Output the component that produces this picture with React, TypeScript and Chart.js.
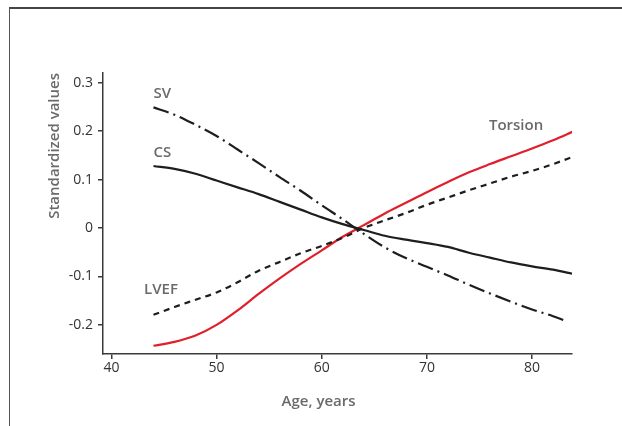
import React, { useEffect, useRef } from "react";
import { Chart, registerables } from "chart.js";

Chart.register(...registerables);

const ages = [44, 46, 48, 50, 52, 54, 56, 58, 60, 62, 64, 66, 68, 70, 72, 74, 76, 78, 80, 82, 84];
const svAges = [44, 46, 48, 50, 52, 54, 56, 58, 60, 62, 64, 66, 68, 70, 72, 74, 76, 78, 80, 82, 83];
const svValues = [0.249, 0.234, 0.213, 0.19, 0.162, 0.134, 0.105, 0.077, 0.047, 0.018, -0.012, -0.04, -0.062, -0.08, -0.098, -0.117, -0.135, -0.152, -0.168, -0.182, -0.19];
const csValues = [0.128, 0.122, 0.112, 0.098, 0.084, 0.07, 0.054, 0.038, 0.022, 0.008, -0.004, -0.016, -0.024, -0.031, -0.039, -0.051, -0.061, -0.071, -0.079, -0.086, -0.095];
const lvefValues = [-0.179, -0.163, -0.148, -0.133, -0.112, -0.088, -0.07, -0.052, -0.037, -0.02, 0.0, 0.016, 0.031, 0.048, 0.063, 0.078, 0.092, 0.106, 0.118, 0.132, 0.148];
const torsionValues = [-0.243, -0.235, -0.222, -0.2, -0.17, -0.136, -0.104, -0.074, -0.046, -0.018, 0.006, 0.03, 0.052, 0.074, 0.095, 0.115, 0.132, 0.148, 0.164, 0.181, 0.2];

const xTicks = [40, 50, 60, 70, 80];
const yTicks = [-0.2, -0.1, 0, 0.1, 0.2, 0.3];

const seriesLabels = [
  { text: "SV", x: 44, y: 0.278 },
  { text: "CS", x: 44, y: 0.156 },
  { text: "LVEF", x: 43.1, y: -0.128 },
  { text: "Torsion", x: 75.9, y: 0.212 },
];

const xTitle = "Age, years";
const yTitle = "Standardized values";

const FONT = "'Open Sans', 'Noto Sans', sans-serif";
const LABEL_COLOR = "#6a6a6a";

const textPlugin = {
  id: "customText",
  afterDraw(chart: any) {
    const ctx = chart.ctx;
    const xs = chart.scales.x;
    const ys = chart.scales.y;
    ctx.save();
    ctx.fillStyle = LABEL_COLOR;
    ctx.font = `600 15px ${FONT}`;
    ctx.textBaseline = "middle";
    ctx.textAlign = "left";
    for (const l of seriesLabels) {
      ctx.fillText(l.text, xs.getPixelForValue(l.x), ys.getPixelForValue(l.y));
    }
    ctx.textAlign = "center";
    ctx.fillText(xTitle, xs.getPixelForValue(59.7), chart.chartArea.bottom + 48);
    ctx.translate(55, chart.chartArea.top);
    ctx.rotate(-Math.PI / 2);
    ctx.textAlign = "right";
    ctx.fillText(yTitle, 0, 0);
    ctx.restore();
  },
};

export default function App() {
  const ref = useRef<HTMLCanvasElement>(null);
  useEffect(() => {
    const canvas = ref.current!;
    const chart = new Chart(canvas, {
      type: "line",
      data: {
        datasets: [
          {
            label: "SV",
            data: svAges.map((a, i) => ({ x: a, y: svValues[i] })),
            borderColor: "#1e1e1e",
            borderWidth: 2.2,
            borderDash: [16, 5, 2, 5],
          },
          {
            label: "CS",
            data: ages.map((a, i) => ({ x: a, y: csValues[i] })),
            borderColor: "#1e1e1e",
            borderWidth: 2.2,
          },
          {
            label: "LVEF",
            data: ages.map((a, i) => ({ x: a, y: lvefValues[i] })),
            borderColor: "#1e1e1e",
            borderWidth: 2.2,
            borderDash: [6, 5],
          },
          {
            label: "Torsion",
            data: ages.map((a, i) => ({ x: a, y: torsionValues[i] })),
            borderColor: "#e01f2b",
            borderWidth: 2.2,
          },
        ],
      },
      options: {
        animation: false,
        responsive: false,
        maintainAspectRatio: false,
        events: [],
        elements: {
          point: { radius: 0 },
          line: { cubicInterpolationMode: "monotone", fill: false },
        },
        layout: { padding: { top: 73, right: 50, left: 0, bottom: 0 } },
        plugins: { legend: { display: false }, tooltip: { enabled: false }, title: { display: false } },
        scales: {
          x: {
            type: "linear",
            min: 39.2,
            max: 83.8,
            afterFit(scale: any) {
              scale.height = 72;
            },
            afterBuildTicks(scale: any) {
              scale.ticks = xTicks.map((v) => ({ value: v }));
            },
            border: { display: true, color: "#3a3a3a", width: 1.5 },
            grid: { display: true, drawOnChartArea: false, drawTicks: true, tickLength: 5, color: "#3a3a3a", lineWidth: 1.5 },
            ticks: {
              color: "#333",
              font: { family: FONT, size: 14 },
              padding: 1,
              maxRotation: 0,
              callback: (v: any) => String(v),
            },
          },
          y: {
            type: "linear",
            min: -0.26,
            max: 0.32,
            afterFit(scale: any) {
              scale.width = 103;
            },
            afterBuildTicks(scale: any) {
              scale.ticks = yTicks.map((v) => ({ value: v }));
            },
            border: { display: true, color: "#3a3a3a", width: 1.5 },
            grid: { display: true, drawOnChartArea: false, drawTicks: true, tickLength: 5, color: "#3a3a3a", lineWidth: 1.5 },
            ticks: {
              color: "#333",
              font: { family: FONT, size: 14 },
              padding: 5,
              callback: (v: any) => (v === 0 ? "0" : String(Math.round(v * 10) / 10)),
            },
          },
        },
      },
      plugins: [textPlugin],
    } as any);
    return () => chart.destroy();
  }, []);

  return (
    <div style={{ position: "fixed", left: 0, top: 0, width: 622, height: 426, overflow: "hidden", background: "#fff" }}>
      <div
        style={{
          position: "absolute",
          left: 9,
          top: 7,
          width: 640,
          height: 460,
          borderTop: "2px solid #444",
          borderLeft: "1.5px solid #555",
        }}
      />
      <canvas ref={ref} width={622} height={426} style={{ position: "absolute", left: 0, top: 0 }} />
    </div>
  );
}
